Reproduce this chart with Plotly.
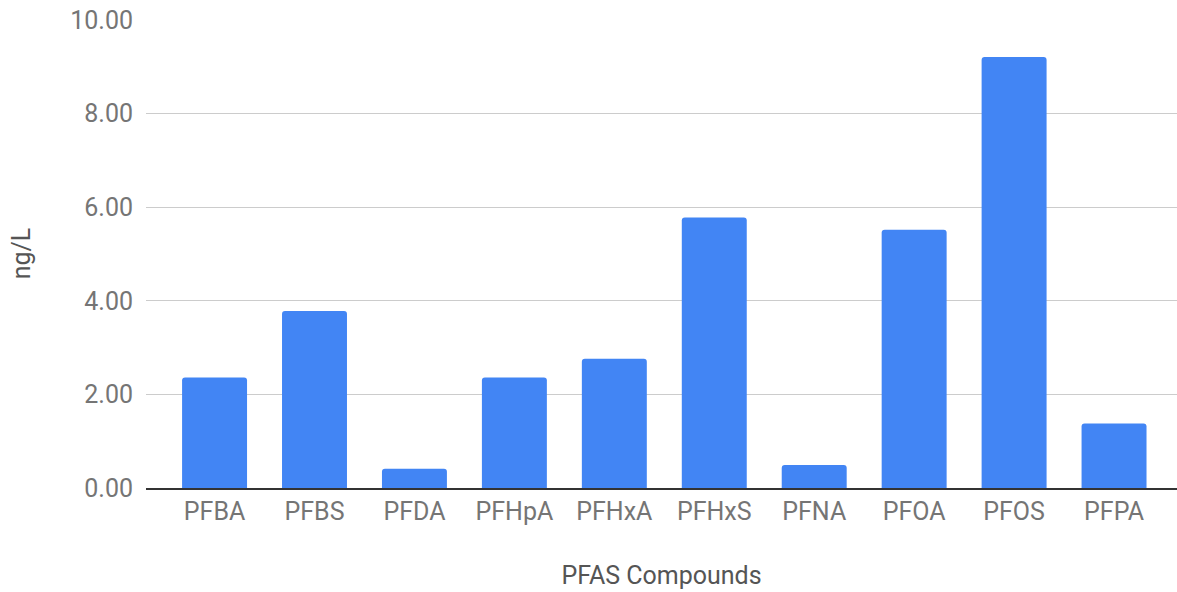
import plotly.graph_objects as go

compounds = ["PFBA", "PFBS", "PFDA", "PFHpA", "PFHxA", "PFHxS", "PFNA", "PFOA", "PFOS", "PFPA"]
values = [2.36, 3.78, 0.41, 2.36, 2.76, 5.78, 0.49, 5.52, 9.21, 1.38]
y_ticks = [0, 2, 4, 6, 8, 10]
y_tick_labels = ["0.00", "2.00", "4.00", "6.00", "8.00", "10.00"]

fig = go.Figure(
    go.Bar(
        x=compounds,
        y=values,
        marker=dict(color="#4285F4", line=dict(width=0), cornerradius=3),
        width=0.65,
    )
)

fig.update_layout(
    width=1177,
    height=592,
    margin=dict(l=146, r=0, t=19, b=104),
    paper_bgcolor="white",
    plot_bgcolor="white",
    font=dict(family="Roboto", size=25, color="#757575"),
    showlegend=False,
)

fig.update_xaxes(
    range=[-0.686, 9.63],
    showgrid=False,
    showline=True,
    linecolor="#333333",
    linewidth=2,
    ticks="",
    tickfont=dict(family="Roboto", size=25, color="#757575"),
    title=dict(text="PFAS Compounds", font=dict(family="Roboto", size=25, color="#555555"), standoff=41),
)

fig.update_yaxes(
    range=[0, 10.02],
    tickvals=y_ticks,
    ticktext=y_tick_labels,
    showgrid=True,
    gridcolor="#cccccc",
    gridwidth=1,
    zeroline=False,
    showline=False,
    ticks="",
    ticklabelstandoff=12,
    tickfont=dict(family="Roboto", size=25, color="#757575"),
    title=dict(text="ng/L", font=dict(family="Roboto", size=25, color="#555555"), standoff=32),
)

fig.write_html(
    "out.html",
    config={"displayModeBar": False},
    post_script="document.body.style.margin='0';document.body.style.overflow='hidden';",
)
